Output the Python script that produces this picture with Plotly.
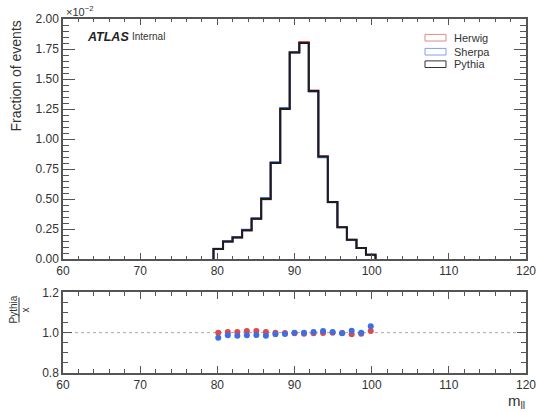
import plotly.graph_objects as go

# ---------------- data ----------------
# bin edges of the m_ll histogram
bin_edges = [79.5, 80.74, 81.97, 83.21, 84.44, 85.68, 86.91, 88.15, 89.38,
             90.62, 91.85, 93.09, 94.32, 95.56, 96.79, 98.03, 99.26, 100.5]
# Pythia fraction of events per bin (in units of 1e-2)
pythia = [0.084, 0.145, 0.18, 0.24, 0.336, 0.50, 0.80, 1.25, 1.72,
          1.80, 1.40, 0.855, 0.475, 0.265, 0.16, 0.092, 0.036]
# ratio Pythia / Herwig and Pythia / Sherpa per bin
ratio_herwig = [1.000, 1.003, 1.003, 1.008, 1.008, 1.003, 1.000, 0.998, 0.997,
                0.995, 0.997, 0.998, 1.000, 0.998, 0.992, 0.995, 1.008]
ratio_sherpa = [0.975, 0.987, 0.985, 0.987, 0.988, 0.985, 0.992, 0.993, 1.000,
                1.000, 1.003, 1.008, 1.003, 0.997, 1.010, 1.000, 1.032]

herwig = [p / r for p, r in zip(pythia, ratio_herwig)]
sherpa = [p / r for p, r in zip(pythia, ratio_sherpa)]
centers = [(a + b) / 2 for a, b in zip(bin_edges[:-1], bin_edges[1:])]

series = [("Herwig", herwig, "#e05050", "#e38a8a"),
          ("Sherpa", sherpa, "#3f6fe0", "#7f9ef0"),
          ("Pythia", pythia, "#1c1c1c", "#333333")]

# ---------------- figure ----------------
W, H = 537, 412
ML, MR, MT, MB = 63, 11, 19, 39
PW, PH = W - ML - MR, H - MT - MB


def px(x):
    return (x - ML) / PW


def py(y):
    return (H - MB - y) / PH


FONT = "Liberation Sans, Arial, sans-serif"
TXT = "#333333"
AX = "#555555"

fig = go.Figure()

for name, vals, col, _ in series:
    xs = [bin_edges[0]] + bin_edges
    ys = [0] + vals + [0]
    fig.add_trace(go.Scatter(x=xs, y=ys, mode="lines", line_shape="hv",
                             line=dict(color=col, width=2), name=name,
                             xaxis="x", yaxis="y", showlegend=False,
                             hoverinfo="skip"))

fig.add_trace(go.Scatter(x=centers, y=ratio_herwig, mode="markers",
                         marker=dict(color="#dd4a4a", size=6),
                         xaxis="x2", yaxis="y2", showlegend=False))
fig.add_trace(go.Scatter(x=centers, y=ratio_sherpa, mode="markers",
                         marker=dict(color="#3d6ee3", size=6),
                         xaxis="x2", yaxis="y2", showlegend=False))

main_bottom = py(259)
low_top = py(292.3)

common_x = dict(range=[60, 120], showgrid=False, zeroline=False,
                showline=True, linecolor=AX, linewidth=1.5, mirror="ticks",
                ticks="inside", tickcolor=AX, tickwidth=1, dtick=10,
                automargin=False,
                tickfont=dict(family=FONT, size=12, color=TXT))

fig.update_layout(
    width=W, height=H,
    margin=dict(l=ML, r=MR, t=MT, b=MB, autoexpand=False),
    paper_bgcolor="white", plot_bgcolor="white",
    font=dict(family=FONT, color=TXT),
    xaxis=dict(**common_x, anchor="y", domain=[0, 1], ticklen=6,
               minor=dict(ticks="inside", ticklen=3, dtick=2, tickcolor=AX)),
    yaxis=dict(range=[0, 2.0], domain=[main_bottom, 1], anchor="x",
               showgrid=False, zeroline=False, showline=True, linecolor=AX,
               linewidth=1.5, mirror="ticks", ticks="inside", tickcolor=AX,
               ticklen=12, tickwidth=1, dtick=0.25, tickformat=".2f",
               automargin=False,
               tickfont=dict(family=FONT, size=12, color=TXT),
               minor=dict(ticks="inside", ticklen=6, dtick=0.05, tickcolor=AX)),
    xaxis2=dict(**common_x, anchor="y2", domain=[0, 1], ticklen=7,
                minor=dict(ticks="inside", ticklen=4, dtick=2, tickcolor=AX)),
    yaxis2=dict(range=[0.8, 1.2], domain=[0, low_top], anchor="x2",
                showgrid=False, zeroline=False, showline=True, linecolor=AX,
                linewidth=1.5, mirror="ticks", ticks="inside", tickcolor=AX,
                ticklen=9, tickwidth=1, tickvals=[0.8, 1.0, 1.2],
                tickformat=".1f", automargin=False,
                tickfont=dict(family=FONT, size=12, color=TXT),
                minor=dict(ticks="inside", ticklen=5, dtick=0.05, tickcolor=AX)),
)

shapes = [dict(type="line", xref="x2", yref="y2", x0=60, x1=120, y0=1, y1=1,
               line=dict(color="#aaaaaa", width=1, dash="dot"), layer="below")]
annotations = []

# legend (manual)
leg_y = [37.7, 51.7, 64.2]
for (name, _, _, lcol), yy in zip(series, leg_y):
    shapes.append(dict(type="rect", xref="paper", yref="paper",
                       x0=px(425), x1=px(446), y0=py(yy - 3.3), y1=py(yy + 3.3),
                       line=dict(color=lcol, width=1), fillcolor="rgba(0,0,0,0)"))
    annotations.append(dict(text=name, xref="paper", yref="paper",
                            x=px(452), y=py(yy), xanchor="left", yanchor="middle",
                            showarrow=False,
                            font=dict(family=FONT, size=11, color=TXT)))

# ATLAS Internal
annotations.append(dict(text="<b><i>ATLAS</i></b>", xref="paper", yref="paper",
                        x=px(85), y=py(36.5), xanchor="left", yanchor="middle",
                        showarrow=False, font=dict(family=FONT, size=12.5, color="#222")))
annotations.append(dict(text="Internal", xref="paper", yref="paper",
                        x=px(130), y=py(37), xanchor="left", yanchor="middle",
                        showarrow=False, font=dict(family=FONT, size=10, color=TXT)))
# exponent label
annotations.append(dict(text="×10<sup>−2</sup>", xref="paper", yref="paper",
                        x=px(64), y=py(11), xanchor="left", yanchor="middle",
                        showarrow=False, font=dict(family=FONT, size=11, color=TXT)))
# y titles
annotations.append(dict(text="Fraction of events", xref="paper", yref="paper",
                        x=px(15.5), y=py(76), xanchor="center", yanchor="middle",
                        textangle=-90, showarrow=False,
                        font=dict(family=FONT, size=14, color=TXT)))
annotations.append(dict(text="Pythia", xref="paper", yref="paper",
                        x=px(12.5), y=py(310), xanchor="center", yanchor="middle",
                        textangle=-90, showarrow=False,
                        font=dict(family=FONT, size=10, color=TXT)))
annotations.append(dict(text="x", xref="paper", yref="paper",
                        x=px(24.5), y=py(310), xanchor="center", yanchor="middle",
                        textangle=-90, showarrow=False,
                        font=dict(family=FONT, size=10, color=TXT)))
shapes.append(dict(type="line", xref="paper", yref="paper",
                   x0=px(19), x1=px(19), y0=py(297.5), y1=py(322.5),
                   line=dict(color=TXT, width=1)))
# x title
annotations.append(dict(text="m<sub>ll</sub>", xref="paper", yref="paper",
                        x=px(527), y=py(401), xanchor="right", yanchor="middle",
                        showarrow=False, font=dict(family=FONT, size=15, color=TXT)))

fig.update_layout(shapes=shapes, annotations=annotations)
fig.write_html("out.html",
               config={"displayModeBar": False},
               post_script="document.body.style.margin='0';"
                           "document.body.style.overflow='hidden';")
